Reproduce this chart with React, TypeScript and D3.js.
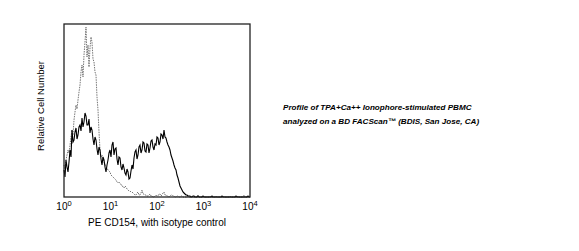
import React from "react";
import * as d3 from "d3";

// Histogram counts at equally spaced log channels from 10^0 to 10^4
const stimulated: number[] = [
  27, 20, 37, 30, 25, 35, 47, 40, 67, 55,
  57, 65, 69, 58, 62, 70, 72, 66, 79, 70,
  75, 84, 81, 72, 72, 78, 64, 70, 67, 58,
  52, 60, 57, 48, 42, 50, 47, 38, 32, 40,
  37, 30, 25, 32, 37, 44, 47, 40, 52, 55,
  42, 48, 49, 38, 32, 40, 39, 30, 27, 33,
  29, 24, 22, 28, 25, 18, 19, 26, 32, 28,
  39, 45, 47, 38, 42, 50, 52, 44, 47, 55,
  54, 46, 45, 53, 52, 44, 49, 56, 57, 50,
  47, 53, 52, 60, 59, 52, 55, 63, 62, 58,
  67, 60, 59, 55, 52, 50, 47, 42, 39, 36,
  32, 29, 27, 22, 19, 15, 11, 9, 7, 5,
  4, 3, 2, 2, 1, 1, 1, 0, 0, 1,
  1, 0, 0, 0, 1, 0, 0, 0, 0, 1,
  0, 0, 0, 0, 0, 0, 0, 0, 1, 0,
  0, 0, 0, 0, 0, 0, 0, 0, 1, 0,
  0, 0, 0, 0, 0, 0, 0, 0, 0, 0,
  0, 0, 1, 0, 0, 0, 0, 0, 0, 0,
  0, 0, 0, 0, 1, 0, 0,
];
const isotype: number[] = [
  32, 28, 37, 42, 47, 44, 52, 60, 67, 62,
  77, 85, 92, 88, 97, 105, 112, 125, 132, 120,
  142, 155, 170, 140, 152, 130, 149, 160, 155, 138,
  135, 125, 122, 100, 87, 65, 47, 40, 42, 38,
  35, 33, 30, 29, 27, 26, 25, 22, 21, 20,
  19, 18, 17, 15, 14, 15, 14, 12, 12, 10,
  9, 11, 10, 8, 7, 6, 6, 5, 5, 4,
  3, 2, 2, 4, 5, 2, 2, 4, 7, 3,
  3, 2, 2, 1, 1, 2, 3, 1, 1, 0,
  0, 1, 2, 1, 1, 3, 3, 1, 2, 4,
  5, 2, 2, 1, 1, 0, 1, 2, 2, 1,
  1, 0, 0, 1, 1, 0, 0, 1, 1, 0,
  0, 0, 0, 0, 1, 0, 0, 0, 1, 0,
  0, 0, 0, 0, 2, 0, 0, 0, 0, 0,
  1, 0, 0, 0, 0, 0, 1, 0, 0, 0,
  0, 0, 1, 0, 0, 0, 0, 0, 0, 0,
  1, 0, 0, 0, 0, 0, 1, 0, 0, 0,
  0, 0, 0, 0, 1, 0, 0, 0, 0, 0,
  2, 0, 0, 0, 1, 0, 0,
];
const tickExponents: string[] = ["0", "1", "2", "3", "4"];
const xLabel = "PE CD154, with isotype control";
const yLabel = "Relative Cell Number";
const captionLines: string[] = [
  "Profile of TPA+Ca++ Ionophore-stimulated PBMC",
  "analyzed on a BD FACScan\u2122 (BDIS, San Jose, CA)",
];

const W = 579;
const H = 251;
const left = 64;
const right = 250;
const top = 24;
const bottom = 197;

export default function App() {
  const n = stimulated.length;
  const x = d3.scaleLog().domain([1, 1e4]).range([left, right]);
  const y = d3.scaleLinear().domain([0, 173]).range([bottom, top]);
  const chanVal = (i: number) => Math.pow(10, (4 * i) / (n - 1));
  const line = d3
    .line<number>()
    .x((_, i) => x(chanVal(i)))
    .y((d) => y(d));
  const font = "Arial, 'Liberation Sans', sans-serif";
  return (
    <svg
      width={W}
      height={H}
      style={{ position: "absolute", left: 0, top: 0, background: "#fff" }}
      fontFamily={font}
    >
      <rect x={0} y={0} width={W} height={H} fill="#fff" />
      <path d={line(isotype) || ""} fill="none" stroke="#666" strokeWidth={0.9} strokeDasharray="1.5,1" />
      <path d={line(stimulated) || ""} fill="none" stroke="#000" strokeWidth={1.1} />
      <rect x={left} y={top} width={right - left} height={bottom - top} fill="none" stroke="#222" strokeWidth={1.3} />
      {tickExponents.map((e) => {
        const v = Math.pow(10, +e);
        return (
          <text key={e} x={x(v)} y={210} textAnchor="middle" fontSize={10} fill="#000">
            10
            <tspan dy={-4.5} fontSize={7.5}>
              {e}
            </tspan>
          </text>
        );
      })}
      <text x={(left + right) / 2} y={226} textAnchor="middle" fontSize={10} fill="#000">
        {xLabel}
      </text>
      <text
        transform={`translate(44,106) rotate(-90)`}
        textAnchor="middle"
        fontSize={9.5}
        fill="#000"
      >
        {yLabel}
      </text>
      {captionLines.map((t, i) => (
        <text key={i} x={283} y={110 + i * 13.5} fontSize={8.1} fontWeight="bold" fontStyle="italic" fill="#000">
          {t}
        </text>
      ))}
    </svg>
  );
}
